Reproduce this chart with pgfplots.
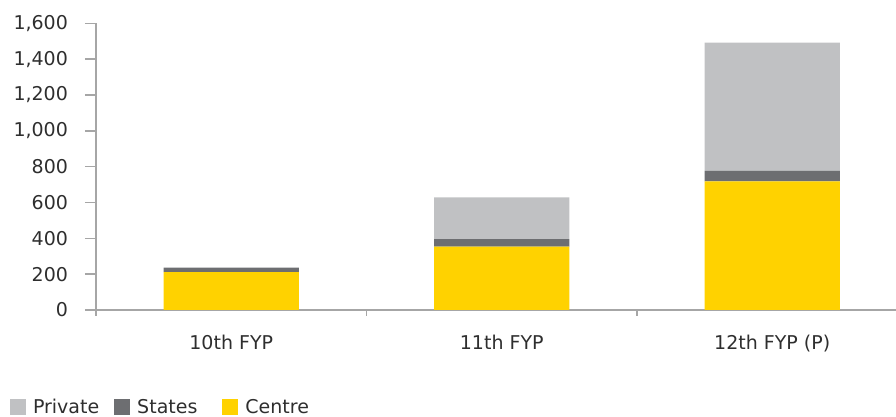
\documentclass[border=0pt]{standalone}
\usepackage{pgfplots}
\pgfplotsset{compat=1.18}
\usepackage{fontspec}
\setmainfont{DejaVu Sans}
\definecolor{eyyellow}{HTML}{FFD200}
\definecolor{eyprivate}{HTML}{C0C1C3}
\definecolor{eystates}{HTML}{6D6E71}
\definecolor{axisgray}{HTML}{A6A6A6}
\definecolor{txt}{HTML}{2E2E2E}
\begin{document}
\begin{tikzpicture}
\useasboundingbox (0,0) rectangle (448pt,-208.5pt);
\begin{axis}[
  at={(48pt,-11.65pt)}, anchor=north west,
  scale only axis, width=400pt, height=143.35pt,
  xmin=-0.5, xmax=2.4575, ymin=0, ymax=1600,
  ybar stacked, bar width=0.5,
  axis lines*=left,
  axis line style={axisgray, line width=0.7pt},
  xtick={0,1,2},
  xticklabels={10th FYP, 11th FYP, 12th FYP (P)},
  minor xtick={-0.5,0.5,1.5},
  major x tick style={draw=none},
  minor x tick style={axisgray, line width=0.7pt},
  minor tick length=3pt,
  ytick={0,200,...,1600},
  major y tick style={axisgray, line width=0.7pt},
  major tick length=5.5pt,
  tick align=outside,
  /pgf/number format/.cd, 1000 sep={,}, assume math mode=true,
  /pgfplots/.cd,
  ticklabel style={font=\fontsize{9.5}{11}\selectfont, text=txt},
  yticklabel style={xshift=-5pt},
  xticklabel style={yshift=-3.5pt},
  legend style={at={(axis description cs:-0.1075,-0.340)}, anchor=west,
    draw=none, fill=none, inner sep=0pt, outer sep=0pt,
    nodes={inner sep=0pt, outer sep=0pt, text=txt, font=\fontsize{9.5}{11}\selectfont, anchor=west},
    legend columns=3},
  legend image code/.code={\fill[#1] (0pt,-4pt) rectangle (8pt,4pt);},
  reverse legend,
]
\addplot[fill=eyyellow, draw=none] coordinates {(0,212) (1,353) (2,718)};
\addlegendentry{\kern3.5pt Centre}
\addplot[fill=eystates, draw=none] coordinates {(0,24) (1,42) (2,59)};
\addlegendentry{\kern3.5pt States\kern12.5pt}
\addplot[fill=eyprivate, draw=none] coordinates {(0,0) (1,234) (2,715)};
\addlegendentry{\kern3.5pt Private\kern7.5pt}
\end{axis}
\end{tikzpicture}
\end{document}
